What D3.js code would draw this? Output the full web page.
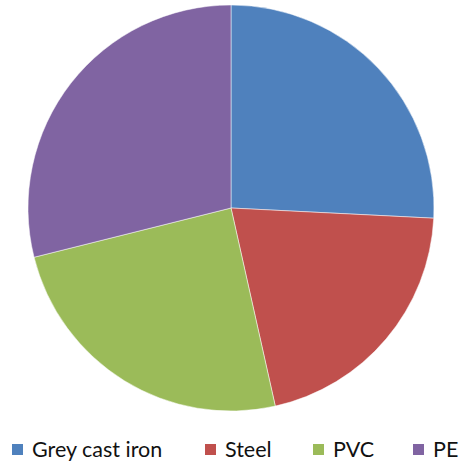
<!DOCTYPE html>
<html>
<head>
<meta charset="utf-8">
<script src="https://cdn.jsdelivr.net/npm/d3@7"></script>
<style>
  body { margin: 0; background: #fff; }
  text { font-family: Lato, "Open Sans", sans-serif; }
</style>
</head>
<body>
<div id="chart"></div>
<script>
const materials = ['Grey cast iron', 'Steel', 'PVC', 'PE']
const shares = [25.8, 20.7, 24.6, 28.9]
const colours = ['#4F81BD', '#C0504D', '#9BBB59', '#8064A2']
const legendX = [12, 205, 313, 413]

const width = 460
const height = 465

const svg = d3.select('#chart')
    .append('svg')
    .attr('width', width)
    .attr('height', height)

const colour = d3.scaleOrdinal().domain(materials).range(colours)

const pie = d3.pie().sort(null).value(d => d.value)
const arc = d3.arc().innerRadius(0).outerRadius(203)

const data = materials.map((name, i) => ({ name, value: shares[i] }))

// slices, clockwise from 12 o'clock
svg.append('g')
    .attr('transform', 'translate(231,208)')
    .selectAll('path')
    .data(pie(data))
    .enter()
    .append('path')
    .attr('d', arc)
    .style('fill', d => colour(d.data.name))
    .style('stroke', '#fff')
    .style('stroke-width', 0.5)

// legend along the bottom
const legend = svg.selectAll('g.legend')
    .data(materials)
    .enter()
    .append('g')
    .attr('class', 'legend')
    .attr('transform', (d, i) => `translate(${legendX[i]},444)`)

legend.append('rect')
    .attr('width', 11)
    .attr('height', 11)
    .style('fill', d => colour(d))

legend.append('text')
    .attr('x', 20)
    .attr('y', 13)
    .style('font-size', '21.5px')
    .style('fill', '#111')
    .text(d => d)
</script>
</body>
</html>
